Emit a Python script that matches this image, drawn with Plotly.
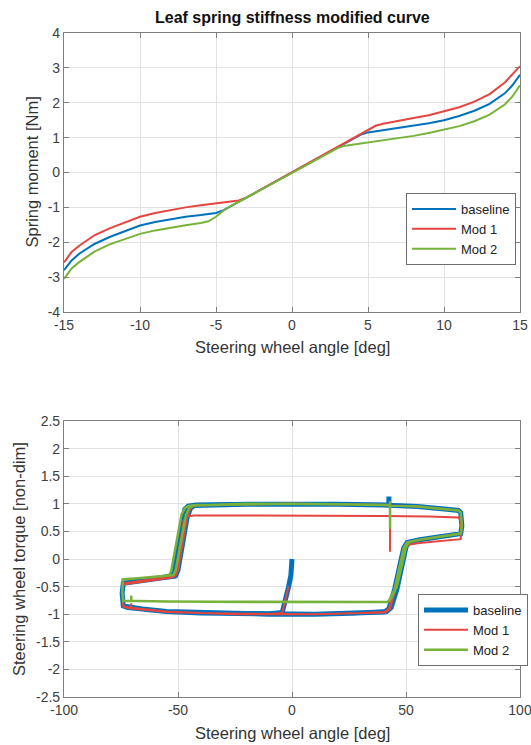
import plotly.graph_objects as go

# ---------------- Top chart data ----------------
angle_top = [-15, -14.5, -14, -13, -12, -11, -10, -9, -8, -7, -6, -5.5, -5, -4.5, -4, -3.5, -3, -2.5, -2, -1, 0,
             1, 2, 2.5, 3, 3.5, 4, 4.5, 5, 5.5, 6, 7, 8, 9, 10, 11, 12, 13, 14, 14.5, 15]
moment_baseline = [-2.80, -2.52, -2.33, -2.05, -1.85, -1.68, -1.52, -1.42, -1.34, -1.27, -1.22, -1.19, -1.16, -1.08,
                   -0.96, -0.84, -0.72, -0.60, -0.48, -0.24, 0,
                   0.24, 0.48, 0.60, 0.72, 0.84, 0.96, 1.08, 1.15, 1.18, 1.21, 1.27, 1.33, 1.41, 1.50, 1.62, 1.77,
                   1.97, 2.27, 2.50, 2.80]
moment_mod1 = [-2.58, -2.28, -2.10, -1.80, -1.60, -1.43, -1.27, -1.16, -1.07, -1.00, -0.94, -0.91, -0.88, -0.85,
               -0.83, -0.80, -0.72, -0.60, -0.48, -0.24, 0,
               0.24, 0.48, 0.60, 0.72, 0.84, 0.96, 1.08, 1.21, 1.34, 1.40, 1.49, 1.56, 1.64, 1.75, 1.87, 2.03,
               2.25, 2.58, 2.80, 3.05]
moment_mod2 = [-3.05, -2.75, -2.57, -2.27, -2.06, -1.90, -1.76, -1.66, -1.58, -1.51, -1.45, -1.40, -1.27, -1.09,
               -0.96, -0.84, -0.72, -0.60, -0.48, -0.24, 0,
               0.24, 0.48, 0.60, 0.70, 0.77, 0.80, 0.82, 0.85, 0.88, 0.91, 0.98, 1.05, 1.13, 1.23, 1.33, 1.47,
               1.66, 1.95, 2.18, 2.50]
top_xticks = [-15, -10, -5, 0, 5, 10, 15]
top_xticklabels = ["-15", "-10", "-5", "0", "5", "10", "15"]
top_yticks = [-4, -3, -2, -1, 0, 1, 2, 3, 4]
top_yticklabels = ["-4", "-3", "-2", "-1", "0", "1", "2", "3", "4"]

# ---------------- Bottom chart data (path segments) ----------------
ramp_ang = [0, 0, -0.5, -1.5, -2.5, -3.5, -4.3]
ramp_trq = [0, -0.15, -0.3, -0.5, -0.68, -0.85, -0.97]
m1_ramp_ang = [-1.5, -2.5, -3.5, -4.3]
m1_ramp_trq = [-0.5, -0.68, -0.85, -0.98]
bottom_ang = [30, 10, -10, -25, -40, -55, -65, -72, -74, -74.5, -74]
bottom_trq = [-0.98, -1.0, -1.0, -0.99, -0.98, -0.95, -0.91, -0.88, -0.85, -0.62, -0.44]
first_bottom_ang = [-10, -25, -40, -55, -65, -72, -74, -74.5, -74]
first_bottom_trq = [-0.99, -0.99, -0.98, -0.95, -0.91, -0.88, -0.85, -0.62, -0.44]
up_a_ang = [-65, -56, -53, -52, -48, -47, -45.5, -42]
up_a_trq = [-0.39, -0.34, -0.31, -0.22, 0.75, 0.90, 0.96, 0.98]
up_b_ang = [-60, -51, -50, -46, -44.5, -43]
up_b_trq = [-0.36, -0.30, -0.20, 0.75, 0.92, 0.97]
up_c_ang = [-60, -51.5, -50.5, -46.5, -45, -43]
up_c_trq = [-0.36, -0.31, -0.20, 0.75, 0.92, 0.97]
top_ang = [-20, 0, 20, 40, 55, 68, 73, 74, 74.5, 74]
top_trq = [0.99, 1.0, 0.99, 0.98, 0.95, 0.90, 0.88, 0.84, 0.60, 0.46]
down_a_ang = [65, 56, 51.5, 50, 46, 43.5, 41.5]
down_a_trq = [0.41, 0.35, 0.31, 0.22, -0.55, -0.88, -0.95]
down_b_ang = [65, 56, 50.5, 49, 45, 42.5, 40.5]
down_b_trq = [0.41, 0.35, 0.30, 0.20, -0.55, -0.90, -0.96]
down_c_ang = [65, 56, 51, 49.5, 45.5, 43, 41]
down_c_trq = [0.41, 0.35, 0.30, 0.21, -0.55, -0.89, -0.96]
base_end_ang = [-20, 0, 20, 42.5, 42.5, 42.5]
base_end_trq = [0.99, 1.0, 0.99, 0.98, 1.13, 0.95]

# Mod 1 specific segments
m1_bottom_ang = [-10, -25, -40, -55, -65, -70.5, -70.5, -70.5, -72, -74, -74.5, -74]
m1_bottom_trq = [-1.0, -1.0, -0.98, -0.96, -0.92, -0.90, -0.80, -0.90, -0.89, -0.86, -0.60, -0.46]
m1_up_ang = [-65, -56, -52, -51, -47.5, -46, -43]
m1_up_trq = [-0.41, -0.36, -0.33, -0.24, 0.70, 0.77, 0.79]
m1_top_ang = [-20, 0, 20, 40, 60, 73, 74, 74.3, 74]
m1_top_trq = [0.79, 0.79, 0.79, 0.78, 0.77, 0.75, 0.70, 0.50, 0.36]
m1_down_ang = [65, 56, 51, 49.5, 45, 43, 41]
m1_down_trq = [0.33, 0.29, 0.26, 0.17, -0.60, -0.90, -0.97]
m1_end_ang = [-20, 0, 20, 43, 43]
m1_end_trq = [0.99, 1.0, 0.99, 0.98, 0.13]

# Mod 2 specific segments
m2_bottom_ang = [30, 10, -10, -25, -40, -55, -68, -72, -74, -74.4, -74.3]
m2_bottom_trq = [-0.78, -0.78, -0.78, -0.78, -0.77, -0.77, -0.76, -0.76, -0.76, -0.60, -0.37]
m2_first_bottom_ang = [-3.5, -10, -25, -40, -55, -68, -70.5, -70.5, -70.5, -72, -74, -74.4, -74.3]
m2_first_bottom_trq = [-0.78, -0.78, -0.78, -0.77, -0.77, -0.76, -0.76, -0.66, -0.76, -0.76, -0.76, -0.60, -0.37]
m2_up_a_ang = [-65, -56, -54, -53, -48.5, -47, -45.5, -42]
m2_up_a_trq = [-0.34, -0.31, -0.30, -0.22, 0.80, 0.92, 0.96, 0.98]
m2_up_b_ang = [-65, -56, -52, -51, -46.5, -45, -43]
m2_up_b_trq = [-0.34, -0.31, -0.29, -0.20, 0.80, 0.93, 0.97]
m2_down_a_ang = [65, 56, 51.5, 50, 46, 43, 42]
m2_down_a_trq = [0.41, 0.35, 0.31, 0.22, -0.50, -0.75, -0.78]
m2_down_b_ang = [65, 56, 50.5, 49, 45, 42.5, 41.5]
m2_down_b_trq = [0.41, 0.35, 0.30, 0.20, -0.55, -0.76, -0.78]
m2_end_ang = [-20, 0, 20, 43, 43, 43]
m2_end_trq = [1.0, 1.0, 0.99, 0.98, 1.05, 0.55]

bot_xticks = [-100, -50, 0, 50, 100]
bot_xticklabels = ["-100", "-50", "0", "50", "100"]
bot_yticks = [-2.5, -2, -1.5, -1, -0.5, 0, 0.5, 1, 1.5, 2, 2.5]
bot_yticklabels = ["-2.5", "-2", "-1.5", "-1", "-0.5", "0", "0.5", "1", "1.5", "2", "2.5"]


def join(*segs):
    out = []
    for s in segs:
        out += s
    return out


base_x = join(ramp_ang, first_bottom_ang, up_a_ang, top_ang, down_a_ang, bottom_ang, up_b_ang, top_ang,
              down_b_ang, bottom_ang, up_c_ang, top_ang, down_c_ang, bottom_ang, up_b_ang, base_end_ang)
base_y = join(ramp_trq, first_bottom_trq, up_a_trq, top_trq, down_a_trq, bottom_trq, up_b_trq, top_trq,
              down_b_trq, bottom_trq, up_c_trq, top_trq, down_c_trq, bottom_trq, up_b_trq, base_end_trq)

m1_x = join(m1_ramp_ang, m1_bottom_ang, m1_up_ang, m1_top_ang, m1_down_ang, bottom_ang, up_b_ang, top_ang,
            down_b_ang, bottom_ang, up_c_ang, m1_end_ang)
m1_y = join(m1_ramp_trq, m1_bottom_trq, m1_up_trq, m1_top_trq, m1_down_trq, bottom_trq, up_b_trq, top_trq,
            down_b_trq, bottom_trq, up_c_trq, m1_end_trq)

m2_x = join(m2_first_bottom_ang, m2_up_a_ang, top_ang, m2_down_a_ang, m2_bottom_ang, m2_up_b_ang,
            top_ang, m2_down_b_ang, m2_bottom_ang, m2_up_b_ang, m2_end_ang)
m2_y = join(m2_first_bottom_trq, m2_up_a_trq, top_trq, m2_down_a_trq, m2_bottom_trq, m2_up_b_trq,
            top_trq, m2_down_b_trq, m2_bottom_trq, m2_up_b_trq, m2_end_trq)

BLUE = "#0072BD"
RED = "#E5453F"
GREEN = "#77B33A"
FONT = "Liberation Sans, Arial, sans-serif"

fig = go.Figure()
fig.add_trace(go.Scatter(x=angle_top, y=moment_baseline, mode="lines", name="baseline",
                         line=dict(color=BLUE, width=2), xaxis="x", yaxis="y", legend="legend"))
fig.add_trace(go.Scatter(x=angle_top, y=moment_mod1, mode="lines", name="Mod 1",
                         line=dict(color=RED, width=2), xaxis="x", yaxis="y", legend="legend"))
fig.add_trace(go.Scatter(x=angle_top, y=moment_mod2, mode="lines", name="Mod 2",
                         line=dict(color=GREEN, width=2), xaxis="x", yaxis="y", legend="legend"))

fig.add_trace(go.Scatter(x=base_x, y=base_y, mode="lines", name="baseline",
                         line=dict(color=BLUE, width=5), xaxis="x2", yaxis="y2", legend="legend2"))
fig.add_trace(go.Scatter(x=m1_x, y=m1_y, mode="lines", name="Mod 1",
                         line=dict(color=RED, width=2), xaxis="x2", yaxis="y2", legend="legend2"))
fig.add_trace(go.Scatter(x=m2_x, y=m2_y, mode="lines", name="Mod 2",
                         line=dict(color=GREEN, width=2.5), xaxis="x2", yaxis="y2", legend="legend2"))

axis_style = dict(showline=True, linecolor="#7f7f7f", linewidth=1.2, mirror="ticks", ticks="inside",
                  ticklen=5, tickcolor="#7f7f7f", showgrid=True, gridcolor="#e2e2e2", gridwidth=1,
                  zeroline=False, tickfont=dict(family=FONT, size=14, color="#404040"), fixedrange=True,
                  automargin=False, ticklabeloverflow="allow")

W, H = 531, 745
L, R, T, B = 64, 11, 33, 48
ph = H - T - B


def py(pix):
    return (H - B - pix) / ph


def px(pix):
    return (pix - L) / (W - L - R)


legend_style = dict(xanchor="left", yanchor="top", bgcolor="white", bordercolor="#6e6e6e", borderwidth=1,
                    font=dict(family=FONT, size=13, color="#222"), itemwidth=44, tracegroupgap=0)

fig.update_layout(
    width=W, height=H, margin=dict(l=L, r=R, t=T, b=B, autoexpand=False),
    paper_bgcolor="white", plot_bgcolor="white",
    font=dict(family=FONT, color="#333333"),
    showlegend=True,
    xaxis=dict(axis_style, domain=[0, 1], range=[-15, 15], tickvals=top_xticks, ticktext=top_xticklabels,
               anchor="y"),
    yaxis=dict(axis_style, domain=[py(312), 1], range=[-4, 4], tickvals=top_yticks, ticktext=top_yticklabels,
               anchor="x"),
    xaxis2=dict(axis_style, domain=[0, 1], range=[-100, 100], tickvals=bot_xticks, ticktext=bot_xticklabels,
                anchor="y2"),
    yaxis2=dict(axis_style, domain=[0, py(421)], range=[-2.5, 2.5], tickvals=bot_yticks,
                ticktext=bot_yticklabels, anchor="x2"),
    legend=dict(legend_style, x=px(406), y=py(193)),
    legend2=dict(legend_style, x=px(418), y=py(594)),
    annotations=[
        dict(text="<b>Leaf spring stiffness modified curve</b>", xref="paper", yref="paper", x=0.5, y=py(18),
             showarrow=False, font=dict(family=FONT, size=16, color="#111"), xanchor="center", yanchor="middle"),
        dict(text="Steering wheel angle [deg]", xref="paper", yref="paper", x=0.5, y=py(347),
             showarrow=False, font=dict(family=FONT, size=16.5, color="#333"), xanchor="center", yanchor="middle"),
        dict(text="Spring moment [Nm]", xref="paper", yref="paper", x=px(32), y=py(172.5), textangle=-90,
             showarrow=False, font=dict(family=FONT, size=16.5, color="#333"), xanchor="center", yanchor="middle"),
        dict(text="Steering wheel angle [deg]", xref="paper", yref="paper", x=0.5, y=py(733),
             showarrow=False, font=dict(family=FONT, size=16.5, color="#333"), xanchor="center", yanchor="middle"),
        dict(text="Steering wheel torque [non-dim]", xref="paper", yref="paper", x=px(19), y=py(559),
             textangle=-90, showarrow=False, font=dict(family=FONT, size=16.5, color="#333"),
             xanchor="center", yanchor="middle"),
    ],
)

fig.write_html("out.html")
